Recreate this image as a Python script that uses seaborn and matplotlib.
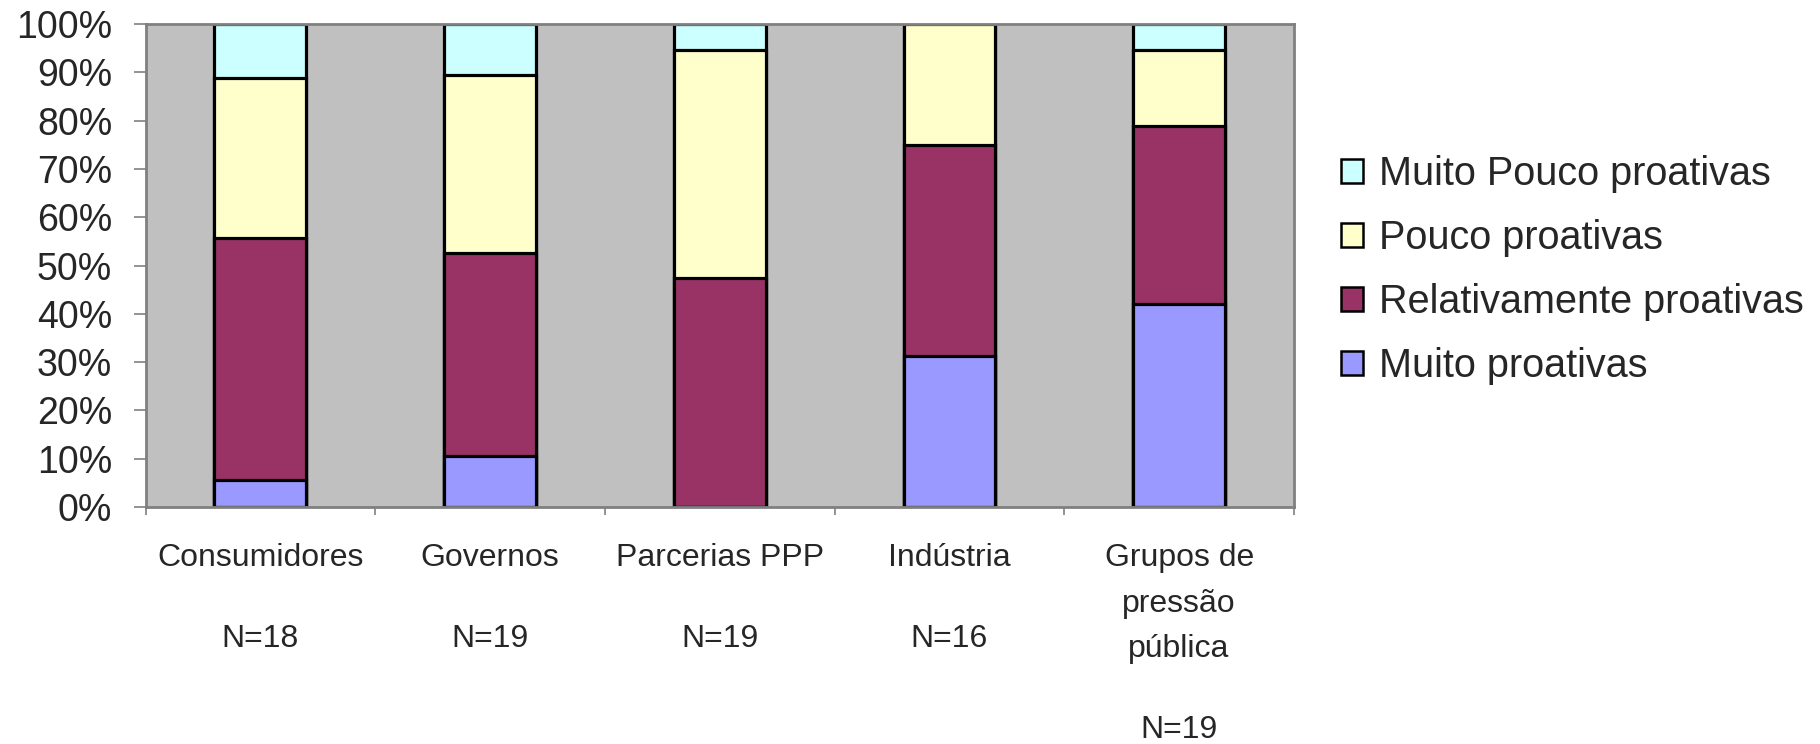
import numpy as np
import pandas as pd
import matplotlib
matplotlib.use("Agg")
import matplotlib.pyplot as plt
from matplotlib.patches import Patch
from matplotlib.ticker import FixedLocator, FuncFormatter
import seaborn as sns

# ---- data (percent of respondents) ----
categories = ["Consumidores", "Governos", "Parcerias PPP", "Indústria",
              "Grupos de\npressão\npública"]
n_labels = ["N=18", "N=19", "N=19", "N=16", "N=19"]
muito_proativas = [5.6, 10.5, 0.0, 31.3, 42.1]
relativamente_proativas = [50.0, 42.1, 47.4, 43.7, 36.8]
pouco_proativas = [33.3, 36.9, 47.3, 25.0, 15.8]
muito_pouco_proativas = [11.1, 10.5, 5.3, 0.0, 5.3]

series_names = ["Muito proativas", "Relativamente proativas",
                "Pouco proativas", "Muito Pouco proativas"]
series_colors = ["#9999FF", "#993366", "#FFFFCC", "#CCFFFF"]

df = pd.DataFrame({
    "categoria": categories,
    "Muito proativas": muito_proativas,
    "Relativamente proativas": relativamente_proativas,
    "Pouco proativas": pouco_proativas,
    "Muito Pouco proativas": muito_pouco_proativas,
})
cum = df[series_names].cumsum(axis=1)
cum["categoria"] = df["categoria"]

sns.set_theme(style="white")
plt.rcParams["font.family"] = ["Liberation Sans", "DejaVu Sans"]

fig = plt.figure(figsize=(18.2, 7.44), dpi=100)
ax = fig.add_axes([145.5 / 1820, 1 - 507 / 744, (1294 - 145.5) / 1820, (507 - 24) / 744])
ax.set_facecolor("#C0C0C0")

# draw stacked bars: largest cumulative first
for name, color in reversed(list(zip(series_names, series_colors))):
    sns.barplot(data=cum, x="categoria", y=name, order=categories,
                color=color, saturation=1, edgecolor="black", linewidth=2.3,
                width=0.4, ax=ax, zorder=2)

ax.set_xlim(-0.5, len(categories) - 0.5)
ax.set_ylim(0, 100)
ax.set_xlabel("")
ax.set_ylabel("")

ax.yaxis.set_major_locator(FixedLocator(np.arange(0, 101, 10)))
ax.yaxis.set_major_formatter(FuncFormatter(lambda v, p: f"{v:.0f}%"))
ax.tick_params(axis="y", which="major", left=True, length=9, width=1.2,
               color="#808080", pad=15, labelsize=27, direction="out")

ax.set_xticks(range(len(categories)))
ax.set_xticklabels(categories, fontsize=23, linespacing=1.67)
ax.set_xticks(np.arange(-0.5, len(categories), 1.0), minor=True)
ax.tick_params(axis="x", which="major", length=0, pad=26)
ax.tick_params(axis="x", which="minor", bottom=True, length=6, width=1.2,
               color="#808080", direction="out")

for s in ax.spines.values():
    s.set_visible(True)
    s.set_color("#808080")
    s.set_linewidth(2)

# legend
handles = [Patch(facecolor=c, edgecolor="black", linewidth=1.8, label=n)
           for n, c in zip(series_names, series_colors)]
handles = handles[::-1]
fig.legend(handles=handles, loc="center left",
           bbox_to_anchor=(1341 / 1820, 1 - 270 / 744),
           bbox_transform=fig.transFigure, frameon=False, fontsize=28.5,
           handlelength=0.55, handleheight=0.55, handletextpad=0.42,
           labelspacing=0.66, borderpad=0, borderaxespad=0)

# N labels placed below each category label
fig.canvas.draw()
renderer = fig.canvas.get_renderer()
ax_bottom = ax.get_window_extent(renderer).y0
for i, (lab, nlab) in enumerate(zip(ax.get_xticklabels(), n_labels)):
    bb = lab.get_window_extent(renderer)
    y_px = bb.y0 - 51
    off_pt = (y_px - ax_bottom) * 72 / fig.dpi
    ax.annotate(nlab, xy=(i, 0), xycoords=("data", "axes fraction"),
                xytext=(0, off_pt), textcoords="offset points",
                ha="center", va="top", fontsize=23, annotation_clip=False)

fig.savefig("out.png", dpi=100)
